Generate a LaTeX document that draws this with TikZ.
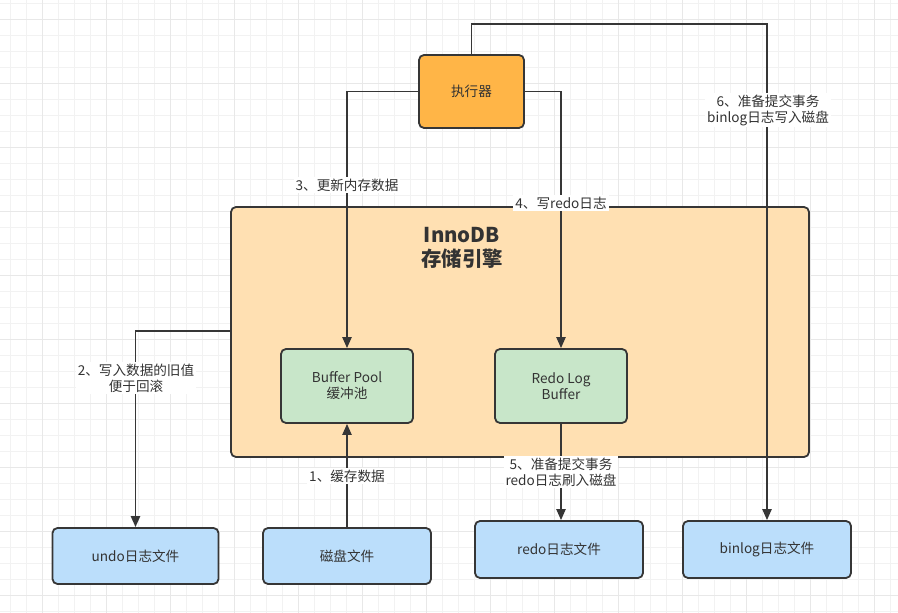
\documentclass[tikz,border=0pt]{standalone}
\usepackage{fontspec}
\setmainfont{Noto Sans CJK SC}
\usepackage{xcolor}
\usepackage{tikz}
\usetikzlibrary{arrows.meta}

\definecolor{execorange}{HTML}{FFB547}
\definecolor{enginepeach}{HTML}{FFE0B2}
\definecolor{bufgreen}{HTML}{C8E6C9}
\definecolor{fileblue}{HTML}{BBDEFB}
\definecolor{edgegray}{HTML}{363636}
\definecolor{textgray}{HTML}{333333}

\begin{document}
\begin{tikzpicture}[x=0.5pt,y=-0.5pt,
	font=\fontsize{6.8}{8}\selectfont, text=textgray,
	box/.style={draw=edgegray, line width=0.9pt, rounded corners=2.5pt, align=center, inner sep=0pt},
	flow/.style={draw=edgegray, line width=0.9pt},
	tip/.style={-{Triangle[length=5.5pt,width=4.6pt]}},
	lbl/.style={fill=white, align=center, inner sep=1pt},
	gridminor/.style={color=black!5, line width=0.4pt},
	gridmajor/.style={color=black!9, line width=0.5pt}]
	\useasboundingbox (0,0) rectangle (898,613);
	\fill[white] (0,0) rectangle (898,613);
	
	% Grid
	\foreach \gx in {10.7,26.7,...,898} \draw[gridminor] (\gx,0) -- (\gx,613);
	\foreach \gy in {3.3,19.3,...,613} \draw[gridminor] (0,\gy) -- (898,\gy);
	\foreach \gx in {42.7,106.7,...,898} \draw[gridmajor] (\gx,0) -- (\gx,613);
	\foreach \gy in {19.3,83.3,...,613} \draw[gridmajor] (0,\gy) -- (898,\gy);
	
	% Storage engine
	\node[box, fill=enginepeach, minimum width=289pt, minimum height=125pt] (innodb) at (520,332) {};
	\node[font=\fontsize{10.2}{12}\selectfont\bfseries, align=center] (title) at (462,248) {InnoDB\\存储引擎};
	
	% Boxes
	\node[box, fill=execorange, minimum width=52.5pt, minimum height=36.5pt] (exec) at (471.5,91.5) {执行器};
	\node[box, fill=bufgreen, minimum width=66pt, minimum height=37pt] (pool) at (347,386) {Buffer Pool\\缓冲池};
	\node[box, fill=bufgreen, minimum width=66pt, minimum height=37pt] (logbuf) at (561,386) {Redo Log\\Buffer};
	\node[box, fill=fileblue, minimum width=83pt, minimum height=28pt] (undo) at (135.5,556) {undo日志文件};
	\node[box, fill=fileblue, minimum width=84pt, minimum height=28pt] (disk) at (347,556) {磁盘文件};
	\node[box, fill=fileblue, minimum width=84pt, minimum height=28.5pt] (redo) at (559,549.5) {redo日志文件};
	\node[box, fill=fileblue, minimum width=84pt, minimum height=28.5pt] (binlog) at (767,549.5) {binlog日志文件};
	
	% Connectors
	\coordinate (topturn) at (471.5,24);
	\coordinate (undoturn) at (innodb.west |- 0,331);
	\draw[flow, tip] (exec.north) -- (topturn) -| (binlog.north);
	\draw[flow, tip] (exec.west) -| (pool.north);
	\draw[flow, tip] (exec.east) -| (logbuf.north);
	\draw[flow, tip] (undoturn) -| (undo.north);
	\draw[flow, tip] (disk.north) -- (pool.south);
	\draw[flow, tip] (logbuf.south) -- (logbuf.south |- redo.north);
	
	% Labels
	\node[lbl] (step1) at (347,476) {1、缓存数据};
	\node[lbl] (step2) at (136,378) {2、写入数据的旧值\\便于回滚};
	\node[lbl] (step3) at (347,185) {3、更新内存数据};
	\node[lbl] (step4) at (561,203) {4、写redo日志};
	\node[lbl] (step5) at (561,472) {5、准备提交事务\\redo日志刷入磁盘};
	\node[lbl] (step6) at (768,110) {6、准备提交事务\\binlog日志写入磁盘};
\end{tikzpicture}
\end{document}
